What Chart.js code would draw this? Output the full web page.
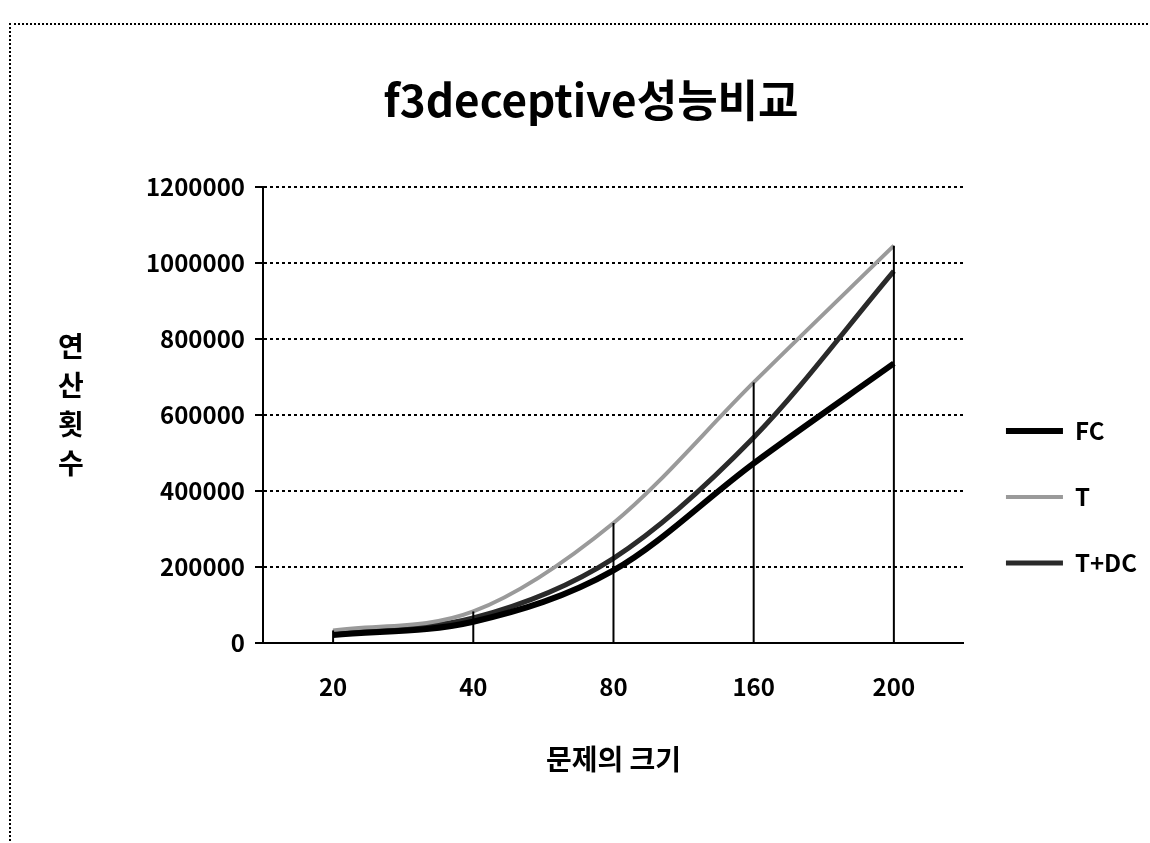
<!DOCTYPE html>
<html>
<head>
<meta charset="utf-8">
<script src="https://cdn.jsdelivr.net/npm/chart.js@4/dist/chart.umd.min.js"></script>
<style>
  html, body { margin: 0; padding: 0; background: #fff; }
  #frame {
    position: absolute; left: 9px; top: 23px;
    width: 1141px; height: 820px;
    border-left: 2px dotted #000; border-top: 2px dotted #000;
  }
  #wrap { position: absolute; left: 0; top: 0; width: 1141px; height: 820px; }
</style>
</head>
<body>
<div id="frame"><div id="wrap"><canvas id="c"></canvas></div></div>
<script>
const chartTitle = 'f3deceptive성능비교';
const xTitle = '문제의 크기';
const yTitleChars = ['연', '산', '횟', '수'];
const categories = ['20', '40', '80', '160', '200'];
const seriesNames = ['FC', 'T', 'T+DC'];
const fcValues = [20000, 55000, 190000, 472000, 735000];
const tValues = [32000, 82000, 315000, 685000, 1045000];
const tdcValues = [28000, 65000, 222000, 540000, 978000];
const yMin = 0, yMax = 1200000, yStep = 200000;

const FONT = '"Noto Sans CJK KR", "Noto Sans", sans-serif';

const dropLines = {
  id: 'dropLines',
  afterDatasetsDraw(chart) {
    const xs = chart.scales.x, ys = chart.scales.y, ctx = chart.ctx;
    ctx.save();
    ctx.strokeStyle = '#000';
    ctx.lineWidth = 2;
    categories.forEach((c, i) => {
      const top = Math.max(...chart.data.datasets.map(d => d.data[i]));
      const x = xs.getPixelForValue(i);
      ctx.beginPath();
      ctx.moveTo(x, ys.getPixelForValue(top));
      ctx.lineTo(x, ys.getPixelForValue(yMin));
      ctx.stroke();
    });
    ctx.restore();
  }
};

const stackedYTitle = {
  id: 'stackedYTitle',
  afterDraw(chart) {
    const ctx = chart.ctx;
    const ca = chart.chartArea;
    ctx.save();
    ctx.fillStyle = '#000';
    ctx.font = 'bold 28px ' + FONT;
    ctx.textAlign = 'center';
    ctx.textBaseline = 'middle';
    const spacing = 39;
    const cy = (ca.top + ca.bottom) / 2 - 10;
    const start = cy - spacing * (yTitleChars.length - 1) / 2;
    yTitleChars.forEach((ch, i) => ctx.fillText(ch, 60, start + i * spacing));
    ctx.restore();
  }
};

new Chart(document.getElementById('c'), {
  type: 'line',
  data: {
    labels: categories,
    datasets: [
      { label: seriesNames[0], data: fcValues, borderColor: '#000', backgroundColor: '#000', borderWidth: 6, pointRadius: 0, pointStyle: 'line', cubicInterpolationMode: 'monotone' },
      { label: seriesNames[1], data: tValues, borderColor: '#9a9a9a', backgroundColor: '#9a9a9a', borderWidth: 4, pointRadius: 0, pointStyle: 'line', cubicInterpolationMode: 'monotone' },
      { label: seriesNames[2], data: tdcValues, borderColor: '#2a2a2a', backgroundColor: '#2a2a2a', borderWidth: 5, pointRadius: 0, pointStyle: 'line', cubicInterpolationMode: 'monotone' }
    ]
  },
  options: {
    responsive: true,
    maintainAspectRatio: false,
    animation: false,
    layout: { padding: { left: 24, right: 5, top: 0, bottom: 65 } },
    plugins: {
      title: {
        display: true, text: chartTitle, color: '#000',
        font: { family: FONT, size: 44, weight: 'bold' },
        padding: { top: 49, bottom: 60 }
      },
      legend: {
        position: 'right',
        title: { display: true, text: ' ', padding: { top: 100, bottom: 60 }, font: { size: 24 } },
        labels: {
          usePointStyle: true, pointStyleWidth: 57, boxHeight: 24,
          color: '#000', padding: 42,
          font: { family: FONT, size: 24, weight: 'bold' }
        }
      },
      tooltip: { enabled: false }
    },
    scales: {
      x: {
        offset: true,
        grid: { display: false, drawTicks: false },
        border: { display: true, color: '#000', width: 2 },
        ticks: { color: '#000', padding: 30, font: { family: FONT, size: 24, weight: 'bold' } },
        title: { display: true, text: xTitle, color: '#000', padding: { top: 11 }, font: { family: FONT, size: 28, weight: 'bold' } }
      },
      y: {
        min: yMin, max: yMax,
        afterFit(scale) { scale.width = 228; },
        ticks: { stepSize: yStep, color: '#000', padding: 10, font: { family: FONT, size: 24, weight: 'bold' }, callback: v => String(v) },
        grid: { color: '#000', lineWidth: 2, tickLength: 8, drawTicks: true },
        border: { display: true, color: '#000', width: 2, dash: [3, 3] }
      }
    }
  },
  plugins: [dropLines, stackedYTitle]
});
</script>
</body>
</html>
